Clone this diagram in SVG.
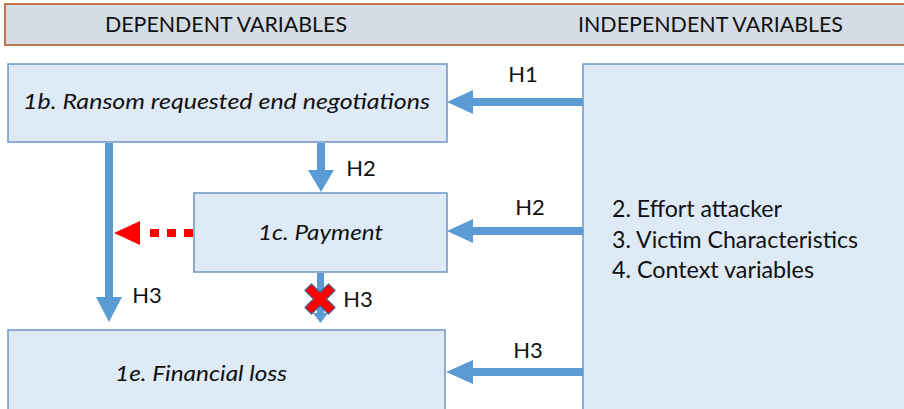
<svg xmlns="http://www.w3.org/2000/svg" width="904" height="409" viewBox="0 0 904 409">
  <style>
    .hdr { fill: #D6DCE5; stroke: #C0784A; stroke-width: 2; }
    .box { fill: #DEEAF6; stroke: #6F96C3; stroke-width: 1.5; }
    .t { font-family: Lato, "Open Sans", sans-serif; fill: #111; }
    .it { font-style: italic; font-size: 22px; }
    .lbl { font-size: 22px; }
    .head { font-size: 20.5px; }
    .shaft { stroke: #5B9BD5; stroke-width: 8; fill: none; }
    .tip { fill: #5B9BD5; }
  </style>

  <!-- header band -->
  <g id="header">
    <rect class="hdr" x="5" y="4" width="905" height="41"/>
    <text class="t head" x="105" y="32" textLength="242" lengthAdjust="spacingAndGlyphs">DEPENDENT VARIABLES</text>
    <text class="t head" x="578" y="32" textLength="265" lengthAdjust="spacingAndGlyphs">INDEPENDENT VARIABLES</text>
  </g>

  <!-- nodes -->
  <g id="node-1b">
    <rect class="box" x="8" y="64" width="439" height="78"/>
    <text class="t it" x="23" y="109" textLength="407" lengthAdjust="spacingAndGlyphs">1b. Ransom requested end negotiations</text>
  </g>
  <g id="node-1c">
    <rect class="box" x="194" y="193" width="253" height="79"/>
    <text class="t it" x="258" y="240" textLength="125" lengthAdjust="spacingAndGlyphs">1c. Payment</text>
  </g>
  <g id="node-1e">
    <rect class="box" x="8" y="330" width="437" height="85"/>
    <text class="t it" x="115" y="381" textLength="172" lengthAdjust="spacingAndGlyphs">1e. Financial loss</text>
  </g>
  <g id="node-independent">
    <rect class="box" x="583" y="64" width="330" height="350"/>
    <text class="t" font-size="23" x="612" y="217" textLength="170" lengthAdjust="spacingAndGlyphs">2. Effort attacker</text>
    <text class="t" font-size="23" x="612" y="248" textLength="246" lengthAdjust="spacingAndGlyphs">3. Victim Characteristics</text>
    <text class="t" font-size="23" x="612" y="278" textLength="202" lengthAdjust="spacingAndGlyphs">4. Context variables</text>
  </g>

  <!-- connectors -->
  <g id="connectors">
    <!-- H1: independent -> 1b -->
    <line class="shaft" x1="583" y1="102" x2="470" y2="102"/>
    <polygon class="tip" points="447,102 473,90 473,114"/>
    <text class="t lbl" x="523" y="82" text-anchor="middle">H1</text>

    <!-- H2: independent -> 1c -->
    <line class="shaft" x1="583" y1="231" x2="470" y2="231"/>
    <polygon class="tip" points="447,231 473,219 473,243"/>
    <text class="t lbl" x="530" y="215" text-anchor="middle">H2</text>

    <!-- H3: independent -> 1e -->
    <line class="shaft" x1="583" y1="372" x2="470" y2="372"/>
    <polygon class="tip" points="446,372 473,360 473,384"/>
    <text class="t lbl" x="528" y="358" text-anchor="middle">H3</text>

    <!-- H2: 1b -> 1c -->
    <line class="shaft" x1="321" y1="143" x2="321" y2="174"/>
    <polygon class="tip" points="321,192 308,170 334,170"/>
    <text class="t lbl" x="361" y="176" text-anchor="middle">H2</text>

    <!-- H3: 1b -> 1e -->
    <line class="shaft" x1="109" y1="143" x2="109" y2="300"/>
    <polygon class="tip" points="109,322 96,297 122,297"/>
    <text class="t lbl" x="147" y="303" text-anchor="middle">H3</text>

    <!-- H3: 1c -> 1e (rejected) -->
    <line stroke="#5B9BD5" stroke-width="7" x1="320.5" y1="273" x2="320.5" y2="315"/>
    <polygon class="tip" points="320.5,323 313,313 328,313"/>
    <polygon fill="#FF0000" stroke="#4A5A8A" stroke-width="1.2" stroke-linejoin="round"
      points="305,290.5 311.5,284 320,292.5 328.5,284 335,290.5 326.5,299 335,307.5 328.5,314 320,305.5 311.5,314 305,307.5 313.5,299"/>
    <text class="t lbl" x="358" y="307" text-anchor="middle">H3</text>

    <!-- dotted red: 1c -> H3 path -->
    <line stroke="#FF0000" stroke-width="8" stroke-dasharray="9 8" x1="193" y1="233" x2="142" y2="233"/>
    <polygon fill="#FF0000" points="114,233 140,221 140,245"/>
  </g>
</svg>
